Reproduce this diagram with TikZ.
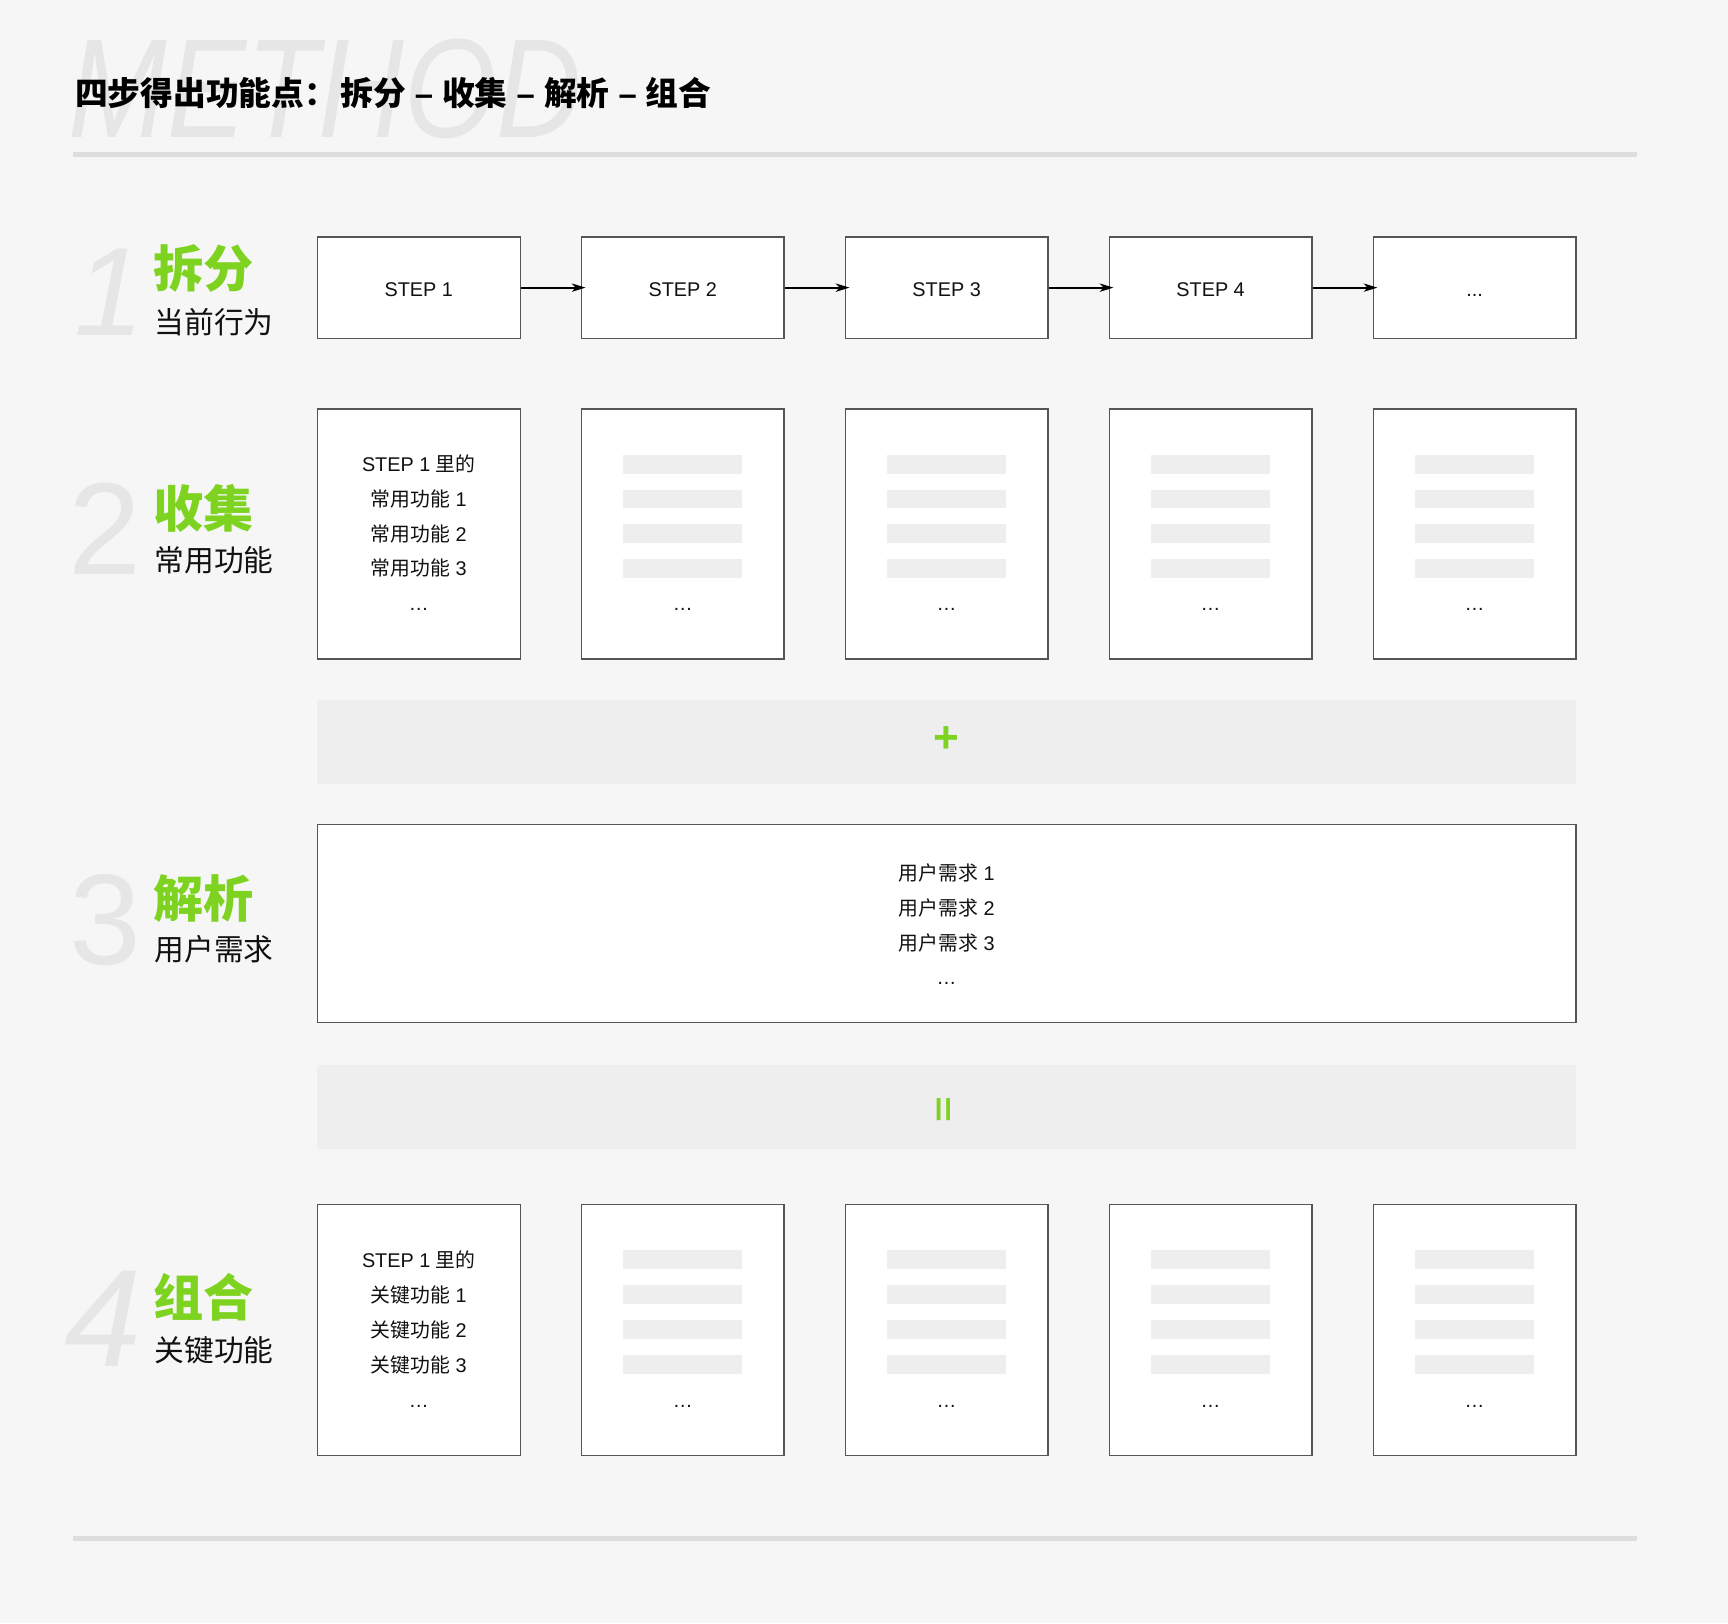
\documentclass[tikz,border=0pt]{standalone}
\usepackage{fontspec}
\setmainfont{Liberation Sans}
\newfontfamily\cjk{Noto Sans CJK SC}
\usetikzlibrary{arrows.meta}
\definecolor{bgc}{HTML}{F6F6F6}
\definecolor{rulec}{HTML}{DDDDDD}
\definecolor{bandc}{HTML}{EEEEEE}
\definecolor{greenc}{HTML}{7ED321}
\definecolor{ghostc}{HTML}{E6E6E6}
\definecolor{borderc}{HTML}{555555}
\definecolor{inkc}{HTML}{111111}
\newcommand{\fs}[1]{\fontsize{#1}{#1}\selectfont}
\begin{document}
\begin{tikzpicture}[x=1pt,y=-1pt,
  box/.style={draw=borderc, line width=1.2pt, fill=white, inner sep=0pt},
  band/.style={fill=bandc, inner sep=0pt},
  txt/.style={inner sep=0pt, text=inkc, font=\fs{18}},
  head/.style={inner sep=0pt, anchor=west, text=greenc, font={\cjk\bfseries\fs{45.5}}},
  sublabel/.style={inner sep=0pt, anchor=west, text=inkc, font={\cjk\fs{27}}},
  ghost/.style={inner sep=0pt, anchor=base, text=ghostc},
  arr/.style={-{Stealth[length=12.5pt,width=7.5pt,inset=3.5pt]}, line width=1.6pt, shorten >=-4.5pt, draw=black},
  bar/.style={fill=bandc},
  sign/.style={inner sep=0pt, text=greenc, font=\bfseries\fs{40}}
]
\fill[bgc] (0,0) rectangle (1568,1473);
\useasboundingbox (0,0) rectangle (1568,1473);

% ghost header word and title
\node[inner sep=0pt, anchor=base west, text=ghostc, font=\itshape\fs{128}] (method) at (62,125) {\scalebox{0.84}[1]{METHOD}};
\node[inner sep=0pt, anchor=west, text=black, font=\bfseries\fs{29.7}] (title) at (68,84) {{\cjk 四步得出功能点：}\hspace{3pt}{\cjk 拆分} – {\cjk 收集} – {\cjk 解析} – {\cjk 组合}};

% rules
\fill[rulec] (66.5,138) rectangle (1485.5,142.5);
\fill[rulec] (66.5,1394) rectangle (1485.5,1398.3);

% left labels
\node[ghost, font=\itshape\fs{114}] (n1) at (99,304) {1};
\node[ghost, font=\fs{119}] (n2) at (95,521) {2};
\node[ghost, font=\fs{117}] (n3) at (96,875) {3};
\node[ghost, font=\itshape\fs{126}] (n4) at (94,1240) {4};

\node[head] (h1) at (139,244) {拆分};
\node[sublabel] (s1) at (140,292) {当前行为};
\node[head] (h2) at (139,461) {收集};
\node[sublabel] (s2) at (140,508.5) {常用功能};
\node[head] (h3) at (139,815) {解析};
\node[sublabel] (s3) at (140,861.3) {用户需求};
\node[head] (h4) at (139,1177) {组合};
\node[sublabel] (s4) at (140,1225) {关键功能};

% boxes of rows 1, 2 and 4
\foreach \i in {1,...,5} {
  \pgfmathsetmacro\cx{380+239.5*(\i-1)}
  \node[box, minimum width=184pt, minimum height=92pt] (a\i) at (\cx,261) {};
  \node[box, minimum width=184pt, minimum height=227pt] (b\i) at (\cx,484.5) {};
  \node[box, minimum width=184pt, minimum height=227.5pt] (d\i) at (\cx,1206.75) {};
}
\node[txt] (a1t) at (380,262.9) {STEP 1};
\node[txt] (a2t) at (619.5,262.9) {STEP 2};
\node[txt] (a3t) at (859,262.9) {STEP 3};
\node[txt] (a4t) at (1098.5,262.9) {STEP 4};
\node[txt] (a5t) at (1338,268) {...};
\draw[arr] (a1.east) -- (a2.west);
\draw[arr] (a2.east) -- (a3.west);
\draw[arr] (a3.east) -- (a4.west);
\draw[arr] (a4.east) -- (a5.west);

% row 2 and row 4 placeholder bars
\foreach \i in {2,...,5} {
  \pgfmathsetmacro\cx{380+239.5*(\i-1)}
  \foreach \cy in {421.1,452.8,484.5,516.2} {
    \fill[bar] (\cx-54,\cy-8.6) rectangle (\cx+54,\cy+8.6);
  }
  \foreach \cy in {1143.1,1174.8,1206.5,1238.2} {
    \fill[bar] (\cx-54,\cy-8.6) rectangle (\cx+54,\cy+8.6);
  }
  \node[txt] (b\i e) at (\cx,553) {…};
  \node[txt] (d\i e) at (\cx,1275.8) {…};
}

% row 2 first box
\node[txt] (b1l1) at (380,420.8) {STEP 1 {\cjk 里的}};
\node[txt] (b1l2) at (380,452.5) {{\cjk 常用功能} 1};
\node[txt] (b1l3) at (380,484.1) {{\cjk 常用功能} 2};
\node[txt] (b1l4) at (380,515.7) {{\cjk 常用功能} 3};
\node[txt] (b1l5) at (380,553) {…};

% plus band
\node[band, minimum width=1142pt, minimum height=76pt] (plusband) at (859,673.5) {};
\node[sign] (plus) at (859,671.2) {+};

% row 3
\node[box, minimum width=1142pt, minimum height=180pt] (c) at (859,838) {};
\node[txt] (cl1) at (859,792) {{\cjk 用户需求} 1};
\node[txt] (cl2) at (859,824) {{\cjk 用户需求} 2};
\node[txt] (cl3) at (859,855.8) {{\cjk 用户需求} 3};
\node[txt] (cl4) at (859,892.8) {…};

% equals band
\node[band, minimum width=1142pt, minimum height=76pt] (eqband) at (859,1004.5) {};
\node[sign, rotate=90] (eq) at (858.5,1006.6) {\scalebox{1}[0.8]{=}};

% row 4 first box
\node[txt] (d1l1) at (380,1143.5) {STEP 1 {\cjk 里的}};
\node[txt] (d1l2) at (380,1175.2) {{\cjk 关键功能} 1};
\node[txt] (d1l3) at (380,1207) {{\cjk 关键功能} 2};
\node[txt] (d1l4) at (380,1238.7) {{\cjk 关键功能} 3};
\node[txt] (d1l5) at (380,1275.8) {…};
\end{tikzpicture}
\end{document}
